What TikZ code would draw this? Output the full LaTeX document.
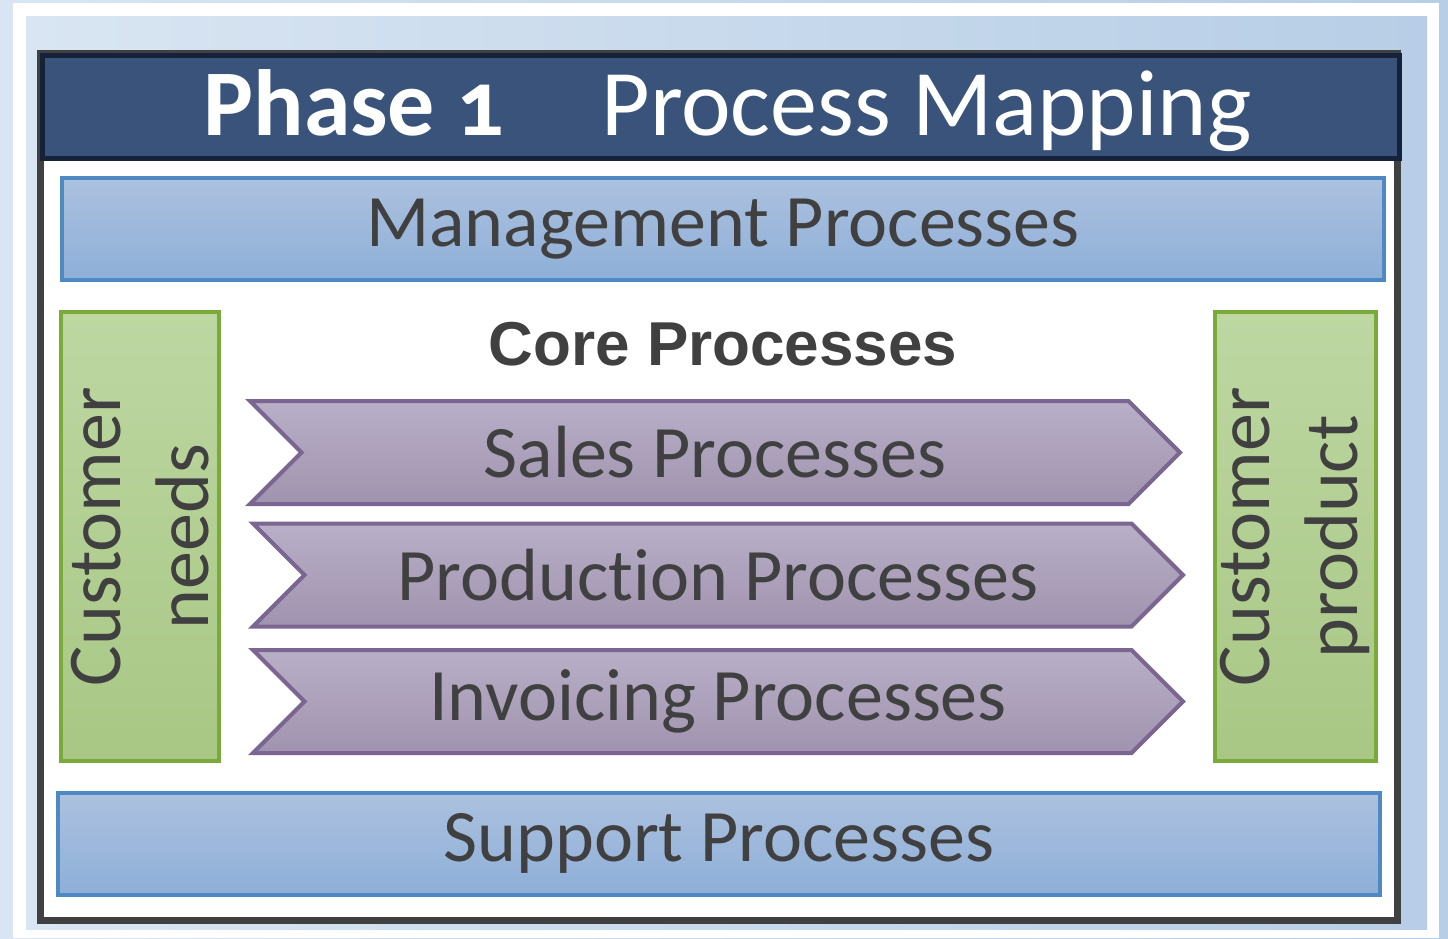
\documentclass[tikz,border=0pt]{standalone}
\usepackage{fontspec}
\setmainfont{Carlito}[Numbers=OldStyle,Ligatures=NoCommon]
\newfontfamily\corefont{Liberation Sans}
\usetikzlibrary{positioning}
\usetikzlibrary{shapes.symbols}

\definecolor{bgleft}{HTML}{D9E5F2}
\definecolor{bgright}{HTML}{B7CEE6}
\definecolor{framegray}{HTML}{404040}
\definecolor{headfill}{HTML}{39537B}
\definecolor{headline}{HTML}{16213A}
\definecolor{textgray}{HTML}{404040}
\definecolor{blueline}{HTML}{4F89C4}
\definecolor{bluetop}{HTML}{ACC1DF}
\definecolor{bluebot}{HTML}{8EAFD8}
\definecolor{greenline}{HTML}{7AAB3A}
\definecolor{greentop}{HTML}{BDD7A2}
\definecolor{greenbot}{HTML}{A8C784}
\definecolor{purpleline}{HTML}{7A6691}
\definecolor{purpletop}{HTML}{B9AFC7}
\definecolor{purplebot}{HTML}{A093AF}

\begin{document}
\begin{tikzpicture}[x=1pt,y=-1pt,
	bigtext/.style={font=\fontsize{74}{88}\selectfont,text=textgray},
	layer/.style={draw=blueline,line width=4pt,top color=bluetop,bottom color=bluebot,
		minimum width=1322pt,minimum height=102pt,inner sep=0pt,bigtext},
	sidebox/.style={draw=greenline,line width=4pt,top color=greentop,bottom color=greenbot,
		minimum height=449pt,inner sep=0pt},
	chevron/.style={signal,signal from=west,signal to=east,signal pointer angle=90,
		draw=purpleline,line width=4pt,top color=purpletop,bottom color=purplebot,
		minimum width=930pt,minimum height=103pt,inner sep=0pt,bigtext}]
	\useasboundingbox (0,0) rectangle (1448,938);

	% background and frames
	\shade[left color=bgleft,right color=bgright] (0,0) rectangle (1448,938);
	\fill[white] (13,3) rectangle (1439,938);
	\shade[left color=bgleft,right color=bgright] (26,16) rectangle (1427,929);
	\draw[framegray,line width=7.5pt,fill=white] (40.5,54) rectangle (1397.5,920.5);

	% header
	\node [draw=headline,fill=headfill,line width=5pt,minimum width=1357pt,minimum height=103pt] (header) at (721,107) {};
	\node [anchor=base west,text=white,font=\fontsize{94}{94}\selectfont\bfseries] (phase) at (200,135) {Phase 1};
	\node [anchor=base west,text=white,font=\fontsize{94}{94}\selectfont] (title) at (598,135) {Process Mapping};

	% layers
	\node [layer] (management) at (722.7,229) {Management Processes};
	\node [layer] (support) at (718.9,843.5) {Support Processes};

	% core processes
	\node [font=\corefont\fontsize{62}{62}\selectfont\bfseries,text=textgray] (core) at (723,344) {Core Processes};
	\node [chevron] (sales) at (715,452.5) {Sales Processes};
	\node [chevron] (production) at (718,575) {Production Processes};
	\node [chevron] (invoicing) at (718,701.5) {Invoicing Processes};

	% customer boxes
	\node [sidebox,minimum width=158pt] (needsbox) at (140.2,536.7) {};
	\node [sidebox,minimum width=161pt] (productbox) at (1295.4,536.7) {};
	\node [rotate=90,align=center,bigtext,font=\fontsize{76}{88}\selectfont] (needs) at (needsbox.center) {Customer\\needs};
	\node [rotate=90,align=center,bigtext,font=\fontsize{76}{88}\selectfont] (product) at (productbox.center) {Customer\\product};
\end{tikzpicture}
\end{document}
